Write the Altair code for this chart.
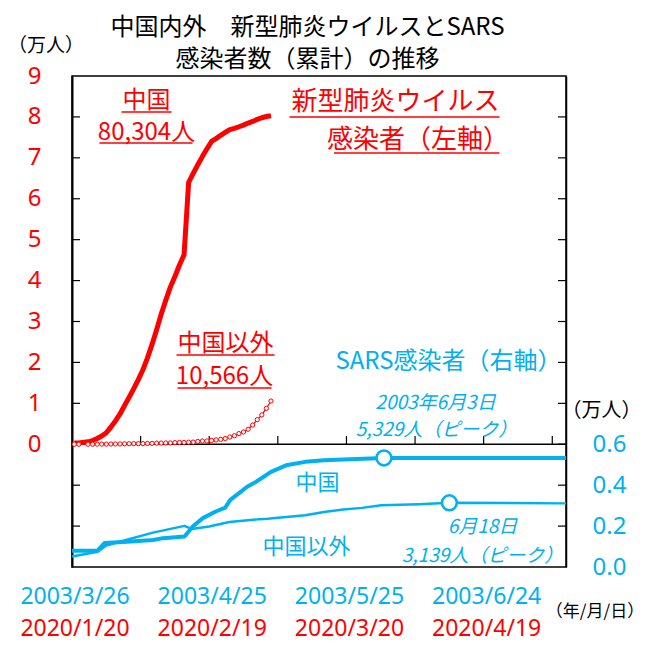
import altair as alt
import pandas as pd

RED = "#FF0000"
BLUE = "#00B0F0"
JP = "Noto Sans CJK JP"
NUM = "Noto Sans"

# ---- data (万人) ----
# 2020 novel coronavirus, day index from 2020/1/20 (one day missing)
covid_days = [0, 1] + list(range(3, 44))
china_2020 = [0.03, 0.03, 0.06, 0.09, 0.14, 0.20, 0.28, 0.42, 0.57, 0.74, 0.95,
              1.15, 1.36, 1.58, 1.82, 2.11, 2.44, 2.80, 3.18, 3.52, 3.84, 4.10,
              4.38, 4.63, 6.40, 6.62, 6.83, 7.03, 7.22, 7.40, 7.47, 7.55, 7.62,
              7.69, 7.72, 7.76, 7.80, 7.85, 7.89, 7.94, 7.98, 8.01, 8.0304]
outside_2020 = [0.0004, 0.0006, 0.0009, 0.0014, 0.0023, 0.0029, 0.0037, 0.0056,
                0.0068, 0.0082, 0.0106, 0.0132, 0.0146, 0.0153, 0.0159, 0.0191,
                0.0216, 0.0270, 0.0288, 0.0307, 0.0319, 0.0395, 0.0441, 0.0447,
                0.0505, 0.0526, 0.0683, 0.0794, 0.0804, 0.0924, 0.1073, 0.1200,
                0.1402, 0.1769, 0.2069, 0.2600, 0.3000, 0.3664, 0.4691, 0.6009,
                0.7169, 0.8774, 1.0566]

# SARS 2003, day index from 2003/3/26
sars_china_days = [0, 5.6, 7.1, 12, 17.7, 19.9, 24.6, 26.4, 28.6, 31.3, 33.5, 34.6,
                   36.6, 38.3, 40.2, 41.5, 43.5, 46.8, 51, 55.1, 59.3, 68.2, 80, 108]
sars_china = [0.079, 0.080, 0.117, 0.124, 0.132, 0.141, 0.149, 0.198, 0.239, 0.270,
              0.290, 0.328, 0.362, 0.392, 0.416, 0.435, 0.465, 0.497, 0.514, 0.522,
              0.525, 0.5329, 0.5327, 0.5327]
sars_out_days = [0, 5.6, 7.5, 11.8, 17.7, 24.6, 26.1, 30, 34.4, 41, 42.7, 51, 55.1,
                 59.3, 63.4, 67.6, 75.9, 82.5, 108]
sars_out = [0.051, 0.075, 0.105, 0.132, 0.168, 0.201, 0.186, 0.198, 0.220, 0.234,
            0.236, 0.253, 0.269, 0.281, 0.289, 0.302, 0.307, 0.3139, 0.311]
peak_days = [68.2, 82.5]
peak_vals = [0.5329, 0.3139]

label_days = [0, 30, 60, 90]
sars_labels = ["2003/3/26", "2003/4/25", "2003/5/25", "2003/6/24"]
covid_labels = ["2020/1/20", "2020/2/19", "2020/3/20", "2020/4/19"]
left_ticks = list(range(-2, 9))
right_ticks = [0.2, 0.4, 0.6, 0.8, 1.0, 1.2, 1.4, 1.6, 1.8, 2.0, 2.2]
x_ticks = [15, 30, 45, 60, 75, 90, 105]

W, H = 494, 491


def xs():
    return alt.Scale(domain=[0, 108], nice=False, zero=False)


def ls():
    return alt.Scale(domain=[-3, 9], nice=False, zero=False)


def rs():
    return alt.Scale(domain=[0, 2.4], nice=False, zero=False)


china_df = pd.DataFrame({"day": [d + 0.5 for d in covid_days], "v": china_2020})
out_df = pd.DataFrame({"day": [d + 0.5 for d in covid_days], "v": outside_2020})
sc_df = pd.DataFrame({"day": sars_china_days, "v": sars_china})
so_df = pd.DataFrame({"day": sars_out_days, "v": sars_out})
pk_df = pd.DataFrame({"day": peak_days, "v": peak_vals})


def X():
    return alt.X("day:Q", scale=xs(), axis=None)


left_axis = alt.Axis(values=list(range(10)), ticks=False, domain=True, domainColor="black",
                     domainWidth=2, labelColor=RED, labelFont=NUM, labelFontSize=24,
                     labelPadding=31, grid=False, title=None)
right_axis = alt.Axis(orient="right", values=[0, 0.2, 0.4, 0.6], format=".1f", ticks=False,
                      domain=True, domainColor="black", domainWidth=1.5, labelColor=BLUE,
                      labelFont=NUM, labelFontSize=24, labelPadding=26, grid=False, title=None)

zero_rule = alt.Chart(pd.DataFrame({"v": [0]})).mark_rule(color="black", strokeWidth=1.5).encode(
    y=alt.Y("v:Q", scale=ls(), axis=None))
xtick = alt.Chart(pd.DataFrame({"day": x_ticks, "y0": [0] * 7, "y1": [0.2] * 7})).mark_rule(
    color="black", strokeWidth=1.2).encode(x=X(), y=alt.Y("y0:Q", scale=ls(), axis=None), y2="y1:Q")
ltick = alt.Chart(pd.DataFrame({"v": left_ticks})).mark_rule(color="black", strokeWidth=1.2).encode(
    y=alt.Y("v:Q", scale=ls(), axis=None), x=alt.value(0), x2=alt.value(8))
china_line = alt.Chart(china_df).mark_line(color=RED, strokeWidth=5, strokeJoin="round").encode(
    x=X(), y=alt.Y("v:Q", scale=ls(), axis=left_axis))
out_line = alt.Chart(out_df).mark_line(
    color=RED, strokeWidth=1.2,
    point=alt.OverlayMarkDef(filled=True, fill="white", stroke=RED, strokeWidth=1, size=18)).encode(
    x=X(), y=alt.Y("v:Q", scale=ls(), axis=None))

rtick = alt.Chart(pd.DataFrame({"v": right_ticks})).mark_rule(color="black", strokeWidth=1.2).encode(
    y=alt.Y("v:Q", scale=rs(), axis=None), x=alt.value(W - 8), x2=alt.value(W))
sc_line = alt.Chart(sc_df).mark_line(color=BLUE, strokeWidth=4, strokeJoin="round").encode(
    x=X(), y=alt.Y("v:Q", scale=rs(), axis=right_axis))
so_line = alt.Chart(so_df).mark_line(color=BLUE, strokeWidth=2.5, strokeJoin="round").encode(
    x=X(), y=alt.Y("v:Q", scale=rs(), axis=None))
peaks = alt.Chart(pk_df).mark_point(shape="circle", filled=True, fill="white", stroke=BLUE,
                                    strokeWidth=2.5, size=220, opacity=1).encode(
    x=X(), y=alt.Y("v:Q", scale=rs(), axis=None))

date_blue = alt.Chart(pd.DataFrame({"day": label_days, "lab": sars_labels})).mark_text(
    font=NUM, fontSize=23, color=BLUE, dx=3).encode(x=X(), y=alt.value(H + 30), text="lab:N")
date_red = alt.Chart(pd.DataFrame({"day": label_days, "lab": covid_labels})).mark_text(
    font=NUM, fontSize=23, color=RED, dx=3).encode(x=X(), y=alt.value(H + 62), text="lab:N")


def txt(t, px, py, size, color="black", align="center", italic=False):
    kw = dict(font=JP, fontSize=size, color=color, align=align, baseline="middle")
    if italic:
        kw["fontStyle"] = "italic"
    return alt.Chart(pd.DataFrame({"t": [t]})).mark_text(**kw).encode(
        text="t:N", x=alt.value(px), y=alt.value(py))


def uline(x1, x2, py, color=RED):
    return alt.Chart(pd.DataFrame({"a": [0]})).mark_rule(color=color, strokeWidth=1.5).encode(
        x=alt.value(x1), x2=alt.value(x2), y=alt.value(py))


annots = [
    txt("中国内外　新型肺炎ウイルスとSARS", 235.5, -48, 24),
    txt("感染者数（累計）の推移", 235.5, -16, 24),
    txt("（万人）", -26, -30, 19),
    txt("（万人）", 529.5, 335, 20),
    txt("（年/月/日）", 523, 536, 17),
    txt("中国", 74.5, 25, 24, RED), uline(49.5, 99.5, 36),
    txt("80,304人", 74.5, 57, 24, RED), uline(27.5, 120.5, 67),
    txt("新型肺炎ウイルス", 427.5, 26, 26, RED, "right"), uline(217.5, 427.5, 41),
    txt("感染者（左軸）", 437, 64, 26, RED, "right"), uline(262, 427.5, 77),
    txt("中国以外", 153.5, 268, 24, RED), uline(104.5, 202.5, 279),
    txt("10,566人", 152.5, 301, 24, RED), uline(105.5, 199.5, 312),
    txt("SARS感染者（右軸）", 376.5, 286, 24, BLUE),
    txt("2003年6月3日", 363.5, 327, 19, BLUE, italic=True),
    txt("5,329人（ピーク）", 364.5, 354, 19, BLUE, italic=True),
    txt("中国", 245.5, 407, 22, BLUE),
    txt("6月18日", 410.5, 451, 19, BLUE, italic=True),
    txt("3,139人（ピーク）", 410.5, 480, 19, BLUE, italic=True),
    txt("中国以外", 234.5, 471, 22, BLUE),
]

chart = alt.layer(
    zero_rule, xtick, ltick, china_line, out_line,
    rtick, sc_line, so_line, peaks,
    date_blue, date_red, *annots
).resolve_scale(y="independent").resolve_axis(y="independent").properties(
    width=W, height=H,
    autosize=alt.AutoSizeParams(type="none"),
    padding={"left": 64, "top": 68, "right": 78, "bottom": 78},
).configure_view(stroke="black", strokeWidth=1.5)

chart.save("out.html", embed_options={"renderer": "svg", "actions": False})
